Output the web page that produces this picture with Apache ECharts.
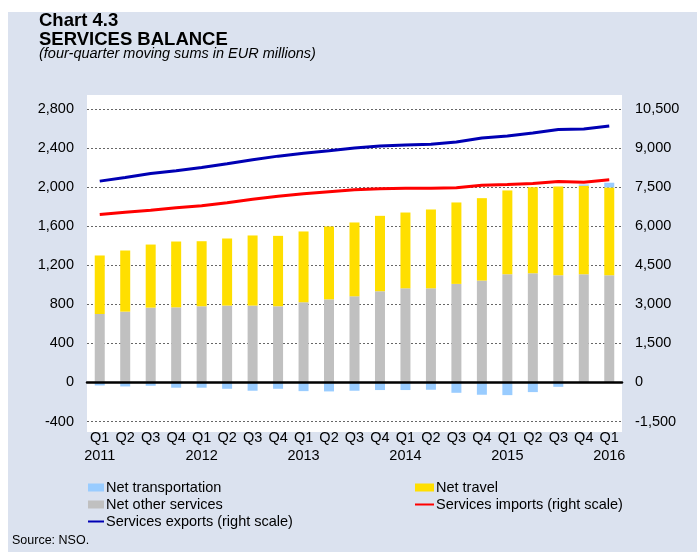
<!DOCTYPE html>
<html>
<head>
<meta charset="utf-8">
<script src="https://cdn.jsdelivr.net/npm/echarts@6/dist/echarts.min.js"></script>
<style>
  html, body { margin: 0; padding: 0; background: #ffffff; }
  #chart { width: 697px; height: 552px; }
</style>
</head>
<body>
<div id="chart"></div>
<script>
// Quarter labels and the year shown under each first quarter
const quarters = ['Q1','Q2','Q3','Q4','Q1','Q2','Q3','Q4','Q1','Q2','Q3','Q4',
                  'Q1','Q2','Q3','Q4','Q1','Q2','Q3','Q4','Q1'];
const years = ['2011','','','','2012','','','','2013','','','',
               '2014','','','','2015','','','','2016'];

// Balance components, EUR millions (left scale)
const netOtherServices = [701, 725, 766, 769, 780, 787, 787, 780, 821, 851, 882,
                          934, 964, 964, 1009, 1043, 1108, 1118, 1097, 1108, 1097];
const netTravel = [599, 626, 646, 674, 666, 687, 718, 721, 725, 746, 756,
                   772, 776, 807, 834, 844, 858, 882, 910, 906, 900];
const netTransportation = [-31, -41, -34, -54, -54, -65, -85, -65, -89, -92, -85,
                           -78, -78, -75, -106, -126, -130, -99, -45, 13, 48];

// Gross flows, EUR millions (right scale)
const servicesImports = [6450, 6535, 6610, 6710, 6785, 6900, 7035, 7150, 7250, 7325, 7400,
                         7440, 7460, 7460, 7480, 7575, 7600, 7640, 7720, 7690, 7780];
const servicesExports = [7730, 7870, 8020, 8130, 8250, 8400, 8555, 8690, 8805, 8900, 9000,
                         9075, 9115, 9150, 9230, 9385, 9460, 9575, 9710, 9730, 9845];

const categories = quarters.map((q, i) => years[i] ? q + '\n' + years[i] : q);

const fmt = v => Number(v).toLocaleString('en-US');
const FONT = 'Liberation Sans, Arial, sans-serif';

// legend entries for the lines show only the stroke, no marker
const lineKey = name => ({ name: name, itemStyle: { opacity: 0 } });

const chart = echarts.init(document.getElementById('chart'), null, { renderer: 'canvas' });

chart.setOption({
  backgroundColor: '#ffffff',
  animation: false,
  textStyle: { fontFamily: FONT },
  graphic: [
    { type: 'rect', z: -10, silent: true,
      shape: { x: 8, y: 12, width: 689, height: 540 },
      style: { fill: '#dbe2ef' } },
    { type: 'rect', z: -9, silent: true,
      shape: { x: 87, y: 95, width: 535, height: 337 },
      style: { fill: '#ffffff' } },
    { type: 'text', left: 12, top: 534, silent: true,
      style: { text: 'Source: NSO.', fontFamily: FONT, fontSize: 12.5, fill: '#000' } }
  ],
  title: [
    { text: 'Chart 4.3', left: 39, top: 11, padding: 0,
      textStyle: { fontFamily: FONT, fontSize: 18.5, fontWeight: 'bold', color: '#000', lineHeight: 20 } },
    { text: 'SERVICES BALANCE', left: 39, top: 30, padding: 0,
      textStyle: { fontFamily: FONT, fontSize: 18.5, fontWeight: 'bold', color: '#000', lineHeight: 20 } },
    { text: '(four-quarter moving sums in EUR millions)', left: 39, top: 46, padding: 0,
      textStyle: { fontFamily: FONT, fontSize: 14.5, fontStyle: 'italic', fontWeight: 'normal', color: '#000', lineHeight: 16 } }
  ],
  legend: [
    { left: 87, top: 479, orient: 'vertical', itemGap: 0, itemWidth: 16, itemHeight: 8,
      padding: 0, selectedMode: false,
      textStyle: { fontFamily: FONT, fontSize: 14.5, color: '#000', lineHeight: 17, padding: [0, 0, 0, -3] },
      data: [
        { name: 'Net transportation', icon: 'rect' },
        { name: 'Net other services', icon: 'rect' },
        lineKey('Services exports (right scale)')
      ] },
    { left: 414, top: 479, orient: 'vertical', itemGap: 0, itemWidth: 19, itemHeight: 8,
      padding: 0, selectedMode: false,
      textStyle: { fontFamily: FONT, fontSize: 14.5, color: '#000', lineHeight: 17, padding: [0, 0, 0, -3] },
      data: [
        { name: 'Net travel', icon: 'rect' },
        lineKey('Services imports (right scale)')
      ] }
  ],
  grid: { left: 87, right: 75, top: 109, bottom: 130.5, containLabel: false },
  xAxis: {
    type: 'category',
    data: categories,
    boundaryGap: true,
    z: 5,
    axisLine: { onZero: true, lineStyle: { color: '#000', width: 2.5 } },
    axisTick: { show: false },
    axisLabel: {
      interval: 0, margin: 7, color: '#000',
      fontFamily: FONT, fontSize: 14.5, lineHeight: 18
    },
    splitLine: { show: false }
  },
  yAxis: [
    {
      type: 'value', min: -400, max: 2800, interval: 400, position: 'left',
      axisLine: { show: false }, axisTick: { show: false },
      axisLabel: { margin: 13, color: '#000', fontFamily: FONT, fontSize: 14.5, formatter: fmt },
      splitLine: { show: true, lineStyle: { color: '#666', width: 1, type: [2, 2] } }
    },
    {
      type: 'value', min: -1500, max: 10500, interval: 1500, position: 'right',
      axisLine: { show: false }, axisTick: { show: false },
      axisLabel: { margin: 13, color: '#000', fontFamily: FONT, fontSize: 14.5, formatter: fmt },
      splitLine: { show: false }
    }
  ],
  series: [
    { name: 'Net other services', type: 'bar', stack: 'bal', barWidth: 10,
      yAxisIndex: 0, data: netOtherServices,
      itemStyle: { color: '#c0c0c0' } },
    { name: 'Net travel', type: 'bar', stack: 'bal', barWidth: 10,
      yAxisIndex: 0, data: netTravel,
      itemStyle: { color: '#ffdf00' } },
    { name: 'Net transportation', type: 'bar', stack: 'bal', barWidth: 10,
      yAxisIndex: 0, data: netTransportation,
      itemStyle: { color: '#99ccff' } },
    { name: 'Services imports (right scale)', type: 'line', yAxisIndex: 1,
      data: servicesImports, symbol: 'none', z: 6,
      lineStyle: { color: '#ff0000', width: 3 }, itemStyle: { color: '#ff0000' } },
    { name: 'Services exports (right scale)', type: 'line', yAxisIndex: 1,
      data: servicesExports, symbol: 'none', z: 6,
      lineStyle: { color: '#0000b4', width: 3 }, itemStyle: { color: '#0000b4' } }
  ]
});
</script>
</body>
</html>
